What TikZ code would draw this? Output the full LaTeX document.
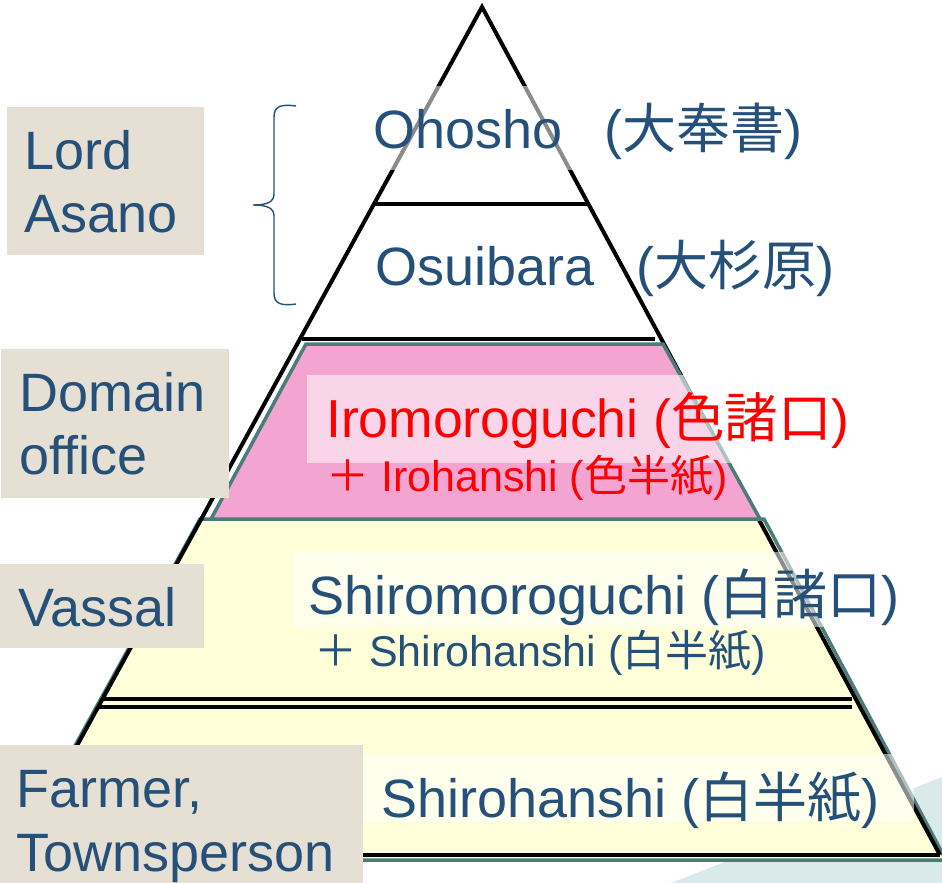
\documentclass[tikz,border=0pt]{standalone}
\usepackage{fontspec}
\setmainfont{Liberation Sans}
\newfontfamily\cjk{Noto Sans CJK JP}
\definecolor{textblue}{HTML}{24507A}
\definecolor{labelbg}{HTML}{E6E0D4}
\definecolor{pinkfill}{HTML}{F4A4D0}
\definecolor{yellowfill}{HTML}{FFFFD9}
\definecolor{tealline}{HTML}{4A7C78}
\definecolor{lightteal}{HTML}{DAE9EA}
\definecolor{redtext}{HTML}{FF0000}
\begin{document}
\begin{tikzpicture}[x=1pt,y=-1pt,
  edge/.style={line width=4pt,black},
  tier/.style={line width=3.5pt,draw=tealline,line join=miter},
  veil/.style={fill=white,fill opacity=0.55,draw=none},
  labelbox/.style={fill=labelbg,draw=none},
  bigtext/.style={anchor=base west,inner sep=0pt,text=textblue,font=\fontsize{54}{63}\selectfont},
  smalltext/.style={anchor=base west,inner sep=0pt,text=textblue,font=\fontsize{43}{50}\selectfont},
  labeltext/.style={anchor=base west,inner sep=0pt,text=textblue,font=\fontsize{54}{63}\selectfont},
  bracestyle/.style={line width=1.4pt,draw=textblue}]
\useasboundingbox (0,0) rectangle (942,883);
% background accent
\fill[lightteal] (942,777) -- (942,883) -- (671,883) -- cycle;
% yellow tier
\filldraw[tier,fill=yellowfill] (200,519) -- (764,519) -- (946,860) -- (12,860) -- cycle;
% pyramid outline
\coordinate (apex) at (482,7);
\coordinate (bl) at (17,855);
\coordinate (br) at (940,855);
\draw[edge,line join=miter] (bl) -- (apex) -- (br);
\draw[edge] (bl) -- (br);
% pink tier
\filldraw[tier,fill=pinkfill] (306,344) -- (663,344) -- (760,519) -- (211,519) -- cycle;
% horizontal dividers
\coordinate (d1l) at (374,204); \coordinate (d1r) at (588,204);
\coordinate (d2l) at (302,339); \coordinate (d2r) at (655,339);
\coordinate (d3l) at (103,699); \coordinate (d3r) at (852,699);
\coordinate (d4l) at (99,707);  \coordinate (d4r) at (852,707);
\draw[line width=3.2pt] (d1l) -- (d1r);
\draw[line width=3.8pt] (d2l) -- (d2r);
\draw[line width=3.8pt] (d3l) -- (d3r);
\draw[line width=3.8pt] (d4l) -- (d4r);
% translucent text backgrounds
\fill[veil] (368,86) rectangle (812,170);
\fill[veil] (307,375) rectangle (852,463);
\fill[veil] (294,552) rectangle (902,627);
\fill[veil] (363,754) rectangle (914,822);
% label boxes
\fill[labelbox] (7,107) rectangle (204,255);
\fill[labelbox] (1,349) rectangle (229,498);
\fill[labelbox] (0,564) rectangle (204,648);
\fill[labelbox] (0,745) rectangle (363,883);
% brace
\draw[bracestyle] (296,106) .. controls (281,104) and (274,106) .. (274,117) -- (274,194)
  .. controls (274,202) and (267,205) .. (253,205)
  .. controls (267,205) and (274,208) .. (274,216) -- (274,293)
  .. controls (274,304) and (281,306) .. (296,304);
% pyramid texts
\node[bigtext] (ohosho) at (373,148) {Ohosho\hspace{42pt}({\cjk 大奉書})};
\node[bigtext] (osuibara) at (375,285) {Osuibara\hspace{42pt}({\cjk 大杉原})};
\node[bigtext,text=redtext,font=\fontsize{53.5}{63}\selectfont] (iromoro) at (326,437) {Iromoroguchi ({\cjk 色諸口})};
\node[smalltext,text=redtext] (irohan) at (326,491) {{\cjk ＋} Irohanshi ({\cjk 色半紙})};
\node[bigtext] (shiromoro) at (308,614) {Shiromoroguchi ({\cjk 白諸口})};
\node[smalltext] (shirohan1) at (314,666) {{\cjk ＋} Shirohanshi ({\cjk 白半紙})};
\node[bigtext] (shirohan2) at (381,817) {Shirohanshi ({\cjk 白半紙})};
% labels
\node[labeltext] (lord1) at (24,169) {Lord};
\node[labeltext] (lord2) at (24,232) {Asano};
\node[labeltext] (dom1) at (19,411) {Domain};
\node[labeltext] (dom2) at (19,474) {office};
\node[labeltext] (vassal) at (18,626) {Vassal};
\node[labeltext] (farm1) at (16,807) {Farmer,};
\node[labeltext] (farm2) at (16,871) {Townsperson};
\end{tikzpicture}
\end{document}
